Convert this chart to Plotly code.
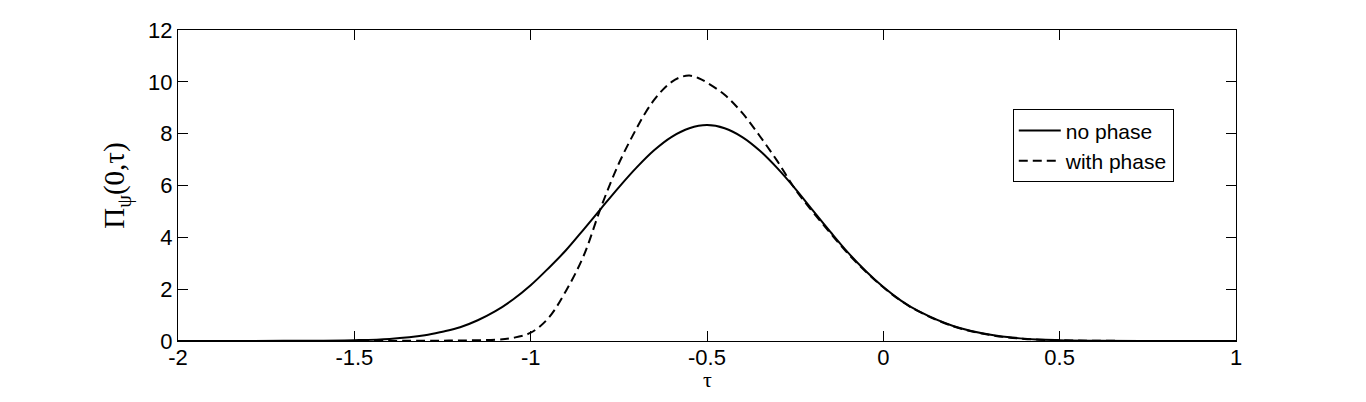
import plotly.graph_objects as go

# curva sin fase
tau_sin = [-2.0, -1.7, -1.5, -1.4, -1.3, -1.25, -1.2, -1.15, -1.1, -1.05, -1.0,
           -0.95, -0.9, -0.85, -0.8, -0.75, -0.7, -0.65, -0.6, -0.55, -0.5,
           -0.45, -0.4, -0.35, -0.3, -0.25, -0.2, -0.15, -0.1, -0.05, 0.0,
           0.05, 0.1, 0.2, 0.3, 0.4, 0.5, 0.6, 0.8, 1.0]
pi_sin = [0.0, 0.005, 0.03, 0.08, 0.22, 0.36, 0.53, 0.8, 1.15, 1.6, 2.15,
          2.8, 3.5, 4.3, 5.12, 5.93, 6.69, 7.36, 7.88, 8.21, 8.33,
          8.21, 7.87, 7.34, 6.66, 5.88, 5.04, 4.21, 3.41, 2.7, 2.08,
          1.56, 1.15, 0.57, 0.25, 0.09, 0.03, 0.01, 0.0, 0.0]

# curva con fase
tau_con = [-2.0, -1.5, -1.3, -1.2, -1.1, -1.05, -1.0, -0.95, -0.9, -0.85, -0.8,
           -0.75, -0.7, -0.675, -0.65, -0.625, -0.6, -0.575, -0.55, -0.525,
           -0.5, -0.45, -0.4, -0.35, -0.3, -0.25, -0.2, -0.15, -0.1, -0.05,
           0.0, 0.05, 0.1, 0.2, 0.3, 0.4, 0.5, 0.6, 0.8, 1.0]
pi_con = [0.0, 0.0, 0.01, 0.02, 0.05, 0.12, 0.32, 0.88, 1.93, 3.28, 5.18,
          6.85, 8.2, 8.8, 9.3, 9.7, 10.0, 10.18, 10.24, 10.15,
          9.97, 9.5, 8.8, 7.9, 6.93, 5.86, 4.98, 4.16, 3.37, 2.68,
          2.07, 1.55, 1.14, 0.56, 0.24, 0.08, 0.03, 0.01, 0.0, 0.0]

x_ticks = [-2, -1.5, -1, -0.5, 0, 0.5, 1]
x_labels = ['-2', '-1.5', '-1', '-0.5', '0', '0.5', '1']
y_ticks = [0, 2, 4, 6, 8, 10, 12]

fig = go.Figure()

fig.add_trace(go.Scatter(
    x=tau_sin, y=pi_sin, mode='lines', name='no phase',
    line=dict(color='black', width=2, shape='spline', smoothing=1.0)
))
fig.add_trace(go.Scatter(
    x=tau_con, y=pi_con, mode='lines', name='with phase',
    line=dict(color='black', width=2, dash='9px,5px', shape='spline', smoothing=1.0)
))

eje = dict(
    showline=True, linecolor='black', linewidth=1, mirror='ticks',
    ticks='inside', ticklen=10, tickcolor='black', tickwidth=1,
    showgrid=False, zeroline=False, automargin=False,
    tickfont=dict(family='Liberation Sans, Arial', size=22, color='black'),
)

fig.update_xaxes(range=[-2, 1], tickvals=x_ticks, ticktext=x_labels,
                 ticklabelstandoff=-3, **eje)
fig.update_yaxes(range=[0, 12], tickvals=y_ticks,
                 title=dict(text='Π<sub>ψ</sub>(0,τ)',
                            font=dict(family='Liberation Serif', size=29, color='black'),
                            standoff=14),
                 **eje)

# título del eje x como anotación, para poder bajarlo un poco
fig.add_annotation(text='τ', xref='paper', yref='paper', x=0.5, y=-0.17,
                   xanchor='center', yanchor='bottom', showarrow=False,
                   font=dict(family='Liberation Serif', size=22, color='black'))

# la página tiene 8 px de margen en el body
fig.update_layout(
    width=1350, height=386,
    margin=dict(l=170, r=122, t=22, b=53),
    plot_bgcolor='white', paper_bgcolor='white',
    legend=dict(x=0.789, y=0.745, xanchor='left', yanchor='top',
                bordercolor='black', borderwidth=1, bgcolor='white',
                font=dict(family='Liberation Sans, Arial', size=21, color='black'),
                tracegroupgap=0, itemwidth=42),
)

fig.write_html("out.html")
